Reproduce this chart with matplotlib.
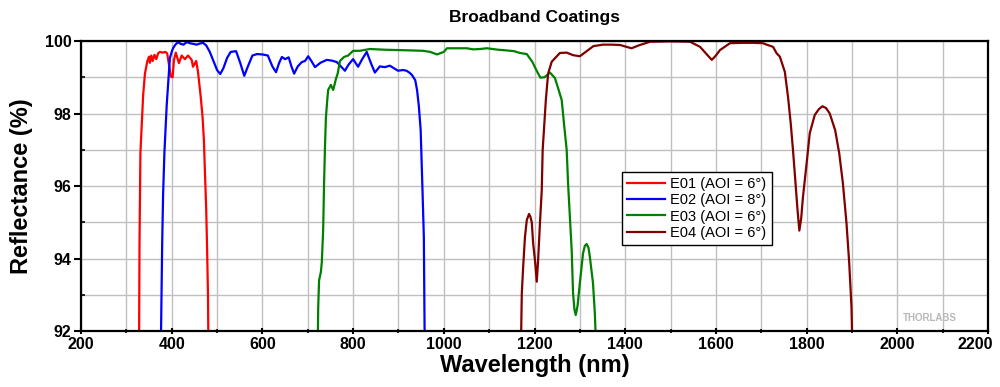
import matplotlib
matplotlib.use("Agg")
import matplotlib.pyplot as plt
from matplotlib.ticker import MultipleLocator
from matplotlib.transforms import ScaledTranslation

plt.rcParams['font.family'] = ['Liberation Sans', 'DejaVu Sans']

# E01 (red)
e01_nm = [328, 329, 331, 334, 337, 341, 346, 350, 352, 355, 358, 362, 366, 370, 374,
          380, 386, 390, 394, 398, 402, 405, 409, 416, 422, 429, 436, 444, 447, 454,
          458, 464, 468, 471, 473, 476, 478, 480, 481]
e01_r = [91.5, 94.4, 96.9, 97.7, 98.5, 99.1, 99.43, 99.57, 99.4, 99.6, 99.45, 99.62, 99.5, 99.66, 99.7,
         99.68, 99.7, 99.66, 99.35, 99.02, 99.0, 99.48, 99.68, 99.39, 99.6, 99.5, 99.6, 99.48, 99.29, 99.45,
         99.15, 98.46, 97.91, 97.27, 96.5, 95.4, 94.3, 93.0, 91.5]

# E02 (blue)
e02_nm = [376, 379, 381, 384, 389, 393, 396, 400, 403, 408, 414, 420, 426, 433, 440,
          448, 455, 462, 469, 476, 484, 492, 500, 507, 514, 522, 530, 542, 551, 560,
          568, 578, 588, 600, 612, 622, 630, 637, 643, 650, 658, 664, 670, 678, 687,
          694, 701, 708, 716, 728, 742, 753, 764, 773, 782, 790, 800, 811, 820, 830,
          839, 848, 859, 870, 881, 890, 899, 910, 918, 925, 930, 937, 941, 945, 949,
          953, 956, 957, 958]
e02_r = [91.5, 94.4, 95.75, 96.94, 98.23, 98.98, 99.53, 99.7, 99.8, 99.9, 99.97, 99.92, 99.9, 99.97, 99.94,
         99.92, 99.9, 99.93, 99.95, 99.88, 99.7, 99.45, 99.2, 99.09, 99.25, 99.53, 99.7, 99.72, 99.4, 99.04,
         99.3, 99.6, 99.64, 99.63, 99.6, 99.3, 99.14, 99.4, 99.56, 99.5, 99.55, 99.3, 99.1, 99.3, 99.42,
         99.45, 99.58, 99.45, 99.28, 99.4, 99.48, 99.46, 99.42, 99.3, 99.18, 99.35, 99.5, 99.29, 99.5, 99.7,
         99.4, 99.13, 99.3, 99.28, 99.32, 99.25, 99.18, 99.2, 99.18, 99.12, 99.06, 98.92, 98.65, 98.2, 97.54,
         95.89, 94.59, 93.0, 91.5]

# E03 (green)
e03_nm = [722, 723, 725, 729, 731, 734, 736, 738, 740, 743, 745, 751, 756, 759, 762,
          766, 771, 780, 789, 800, 815, 837, 870, 900, 930, 954, 970, 985, 1000, 1007,
          1030, 1051, 1065, 1080, 1095, 1120, 1139, 1155, 1168, 1183, 1195, 1206, 1213, 1222, 1234,
          1245, 1252, 1260, 1266, 1271, 1274, 1278, 1282, 1285, 1288, 1291, 1295, 1300, 1307, 1311,
          1315, 1319, 1322, 1329, 1333, 1336]
e03_r = [91.5, 92.63, 93.4, 93.63, 93.9, 94.79, 96.08, 97.08, 97.88, 98.37, 98.65, 98.79, 98.65, 98.79, 98.95,
         99.1, 99.45, 99.56, 99.6, 99.73, 99.73, 99.78, 99.76, 99.75, 99.74, 99.73, 99.7, 99.63, 99.7, 99.8,
         99.8, 99.8, 99.77, 99.78, 99.8, 99.76, 99.74, 99.72, 99.67, 99.64, 99.43, 99.15, 98.99, 99.0, 99.13,
         98.98, 98.7, 98.37, 97.6, 96.99, 96.08, 95.15, 94.23, 93.04, 92.6, 92.44, 92.7, 93.32, 94.14, 94.35,
         94.4, 94.3, 94.05, 93.32, 92.5, 91.5]

# E04 (dark red)
e04_nm = [1170, 1172, 1175, 1179, 1183, 1188, 1191, 1194, 1197, 1201, 1205, 1208, 1212, 1216, 1218,
          1225, 1230, 1238, 1256, 1271, 1285, 1300, 1315, 1330, 1351, 1370, 1389, 1400, 1414, 1430,
          1455, 1500, 1543, 1565, 1580, 1591, 1600, 1609, 1631, 1660, 1682, 1704, 1712, 1726, 1734,
          1741, 1752, 1759, 1765, 1770, 1775, 1780, 1784, 1788, 1792, 1800, 1807, 1818, 1827, 1835,
          1843, 1851, 1863, 1872, 1880, 1888, 1894, 1899, 1901]
e04_r = [91.5, 93.04, 93.77, 94.6, 95.06, 95.23, 95.15, 95.0, 94.42, 93.96, 93.36, 93.96, 94.97, 95.89, 96.99,
         98.37, 99.1, 99.43, 99.67, 99.68, 99.61, 99.58, 99.72, 99.86, 99.9, 99.9, 99.89, 99.85, 99.8, 99.88,
         99.98, 99.99, 99.98, 99.84, 99.63, 99.48, 99.6, 99.75, 99.94, 99.95, 99.95, 99.94, 99.9, 99.84, 99.66,
         99.57, 99.15, 98.46, 97.73, 96.99, 96.17, 95.34, 94.77, 95.1, 95.7, 96.62, 97.46, 97.96, 98.12, 98.2,
         98.15, 98.0, 97.54, 96.9, 96.08, 94.97, 93.87, 92.66, 91.5]

labels = ["E01 (AOI = 6°)", "E02 (AOI = 8°)", "E03 (AOI = 6°)", "E04 (AOI = 6°)"]
colors = ["#ff0000", "#0000ff", "#008000", "#800000"]

fig = plt.figure(figsize=(10, 3.87), dpi=100)
ax = fig.add_axes([0.081, 0.1447, 0.907, 0.7493])

series = [(e01_nm, e01_r), (e02_nm, e02_r), (e03_nm, e03_r), (e04_nm, e04_r)]
for (x, y), lab, c in zip(series, labels, colors):
    ax.plot(x, y, color=c, lw=1.6, label=lab)

ax.set_xlim(200, 2200)
ax.set_ylim(92, 100)
ax.xaxis.set_major_locator(MultipleLocator(200))
ax.xaxis.set_minor_locator(MultipleLocator(100))
ax.yaxis.set_major_locator(MultipleLocator(2))
ax.yaxis.set_minor_locator(MultipleLocator(1))
ax.grid(which='both', color='#c0c0c0', lw=1.0)
ax.set_axisbelow(True)

for s in ax.spines.values():
    s.set_linewidth(1.6)
ax.tick_params(which='major', direction='out', length=5, width=1.5, labelsize=11.5, pad=2)
ax.tick_params(which='minor', direction='in', length=3, width=1.2)
ax.tick_params(axis='x', which='both', direction='inout')

ax.set_title("Broadband Coatings", fontsize=12.5, fontweight='bold', pad=14)
ax.set_xlabel("Wavelength (nm)", fontsize=17, fontweight='bold', labelpad=1)
ax.set_ylabel("Reflectance (%)", fontsize=17, fontweight='bold', labelpad=8)

leg = ax.legend(loc='upper left', bbox_to_anchor=(0.596, 0.548), fontsize=10.5,
                frameon=True, fancybox=False, borderpad=0.35, labelspacing=0.15,
                handlelength=2.6, handletextpad=0.4, borderaxespad=0)
leg.get_frame().set_edgecolor('black')
leg.get_frame().set_linewidth(1.0)
leg.get_frame().set_alpha(1)

ax.text(0.966, 0.045, "THORLABS", transform=ax.transAxes, ha='right', va='center',
        fontsize=7, fontweight='bold', color='#b8b8b8')

# draw once so the tick objects exist, then style them
fig.canvas.draw()
for t in ax.get_xticklabels() + ax.get_yticklabels():
    t.set_fontweight('bold')
shift = ScaledTranslation(-9 / 72, 0, fig.dpi_scale_trans)
for t in ax.get_xticklabels():
    if t.get_text() == "2200":
        t.set_transform(t.get_transform() + shift)

fig.savefig("out.png", dpi=100)
